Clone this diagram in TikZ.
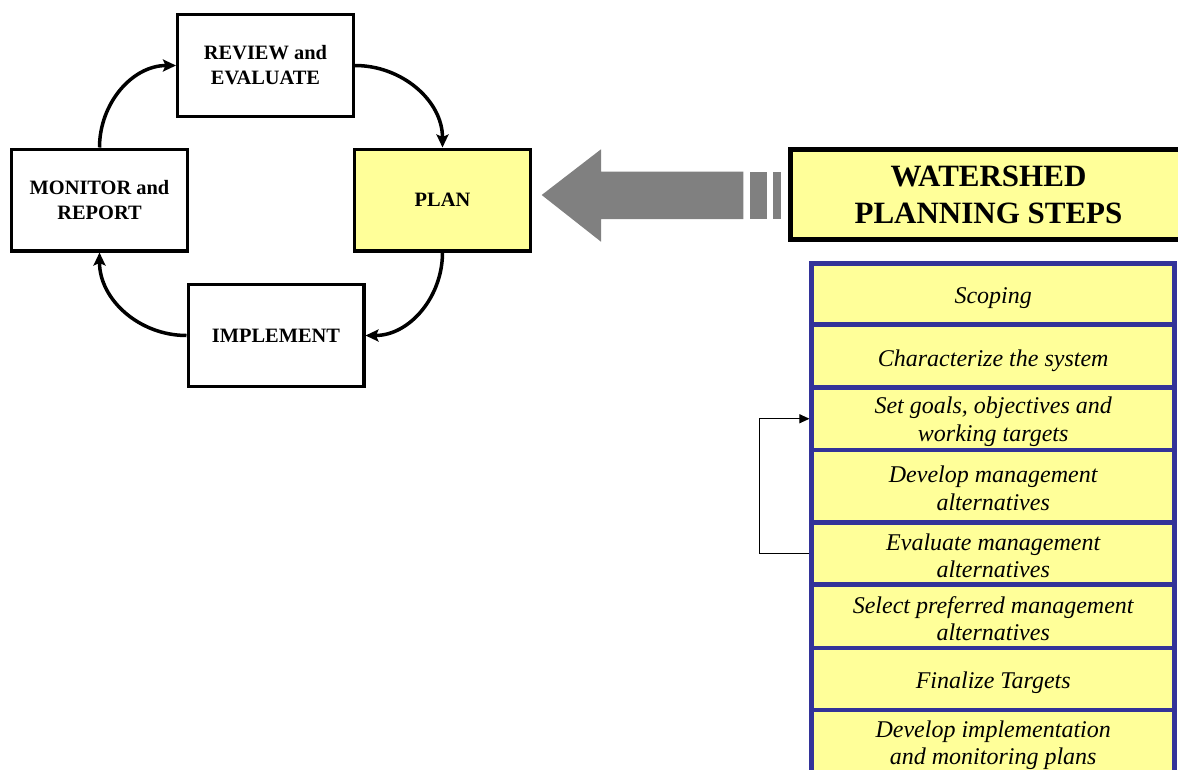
\documentclass[tikz,border=0pt]{standalone}
\usepackage{fontspec}
\setmainfont{Liberation Serif}
\usetikzlibrary{arrows.meta}
\definecolor{pyellow}{HTML}{FFFF99}
\definecolor{lblue}{HTML}{333399}
\definecolor{agray}{HTML}{808080}
\begin{document}
\begin{tikzpicture}[x=1pt,y=-1pt,
  cyclebox/.style={draw=black, line width=3.3pt, fill=white, minimum width=175.7pt, minimum height=101.7pt,
     align=center, font=\fontsize{20.4}{25}\selectfont\bfseries, inner sep=0pt},
  cyclearrow/.style={line width=3.5pt, -{Stealth[length=13pt,width=12pt,inset=2.5pt]}},
  steprow/.style={draw=lblue, line width=4.5pt, fill=pyellow, minimum width=363pt, inner sep=0pt},
  steptext/.style={align=center, font=\fontsize{24}{27.3}\selectfont\itshape, inner sep=0pt},
  titlebox/.style={draw=black, line width=5pt, fill=pyellow, minimum width=396pt, minimum height=90.5pt,
     align=center, font=\fontsize{31}{37}\selectfont\bfseries, inner sep=0pt},
  fbarrow/.style={line width=1pt, -{Triangle[length=10pt,width=9pt]}}
]
\useasboundingbox (0,0) rectangle (1178,769);

% cycle boxes
\node[cyclebox] (rev) at (265.5,65.5) {REVIEW and\\EVALUATE};
\node[cyclebox] (mon) at (99.5,200) {MONITOR and\\REPORT};
\node[cyclebox, fill=pyellow] (plan) at (442.5,200) {PLAN};
\node[cyclebox] (impl) at (276,335.5) {IMPLEMENT};

% cycle arrows
\draw[cyclearrow] (mon.north) to[out=90,in=180] (rev.west);
\draw[cyclearrow] (rev.east) to[out=0,in=90] (plan.north);
\draw[cyclearrow] (plan.south) to[out=-90,in=0] (impl.east);
\draw[cyclearrow] (impl.west) to[out=180,in=-90] (mon.south);

% big gray arrow
\fill[agray] (541.7,195) -- (601,149.3) -- (601,171.7) -- (743.3,171.7) -- (743.3,219)
   -- (601,219) -- (601,241.7) -- cycle;
\fill[agray] (750,171.7) rectangle (766.7,219);
\fill[agray] (773.3,171.7) rectangle (780.7,219);

% title box
\node[titlebox] (ws) at (988.5,194.5) {WATERSHED\\PLANNING STEPS};

% steps list
\node[steprow, minimum height=61.4pt, label={[steptext, yshift=-4pt]center:Scoping}] (s1) at (993.2,294) {};
\node[steprow, minimum height=62.8pt, label={[steptext, yshift=-4.5pt]center:Characterize the system}] (s2) at (993.2,356.1) {};
\node[steprow, minimum height=62.5pt, label={[steptext, yshift=-3pt]center:{Set goals, objectives and\\working targets}}] (s3) at (993.2,418.75) {};
\node[steprow, minimum height=72.5pt, label={[steptext, yshift=-2pt]center:{Develop management\\alternatives}}] (s4) at (993.2,486.25) {};
\node[steprow, minimum height=62.2pt, label={[steptext, yshift=-2.5pt]center:{Evaluate management\\alternatives}}] (s5) at (993.2,553.6) {};
\node[steprow, minimum height=63.3pt, label={[steptext, yshift=-2pt]center:{Select preferred management\\alternatives}}] (s6) at (993.2,616.35) {};
\node[steprow, minimum height=62pt, label={[steptext, yshift=-4pt]center:Finalize Targets}] (s7) at (993.2,679) {};
\node[steprow, minimum height=65pt, label={[steptext, yshift=-3pt]center:{Develop implementation\\and monitoring plans}}] (s8) at (993.2,742.5) {};

% feedback connector
\draw[fbarrow] (s5.west) -- ++(-50,0) |- (s3.west);
\end{tikzpicture}
\end{document}
